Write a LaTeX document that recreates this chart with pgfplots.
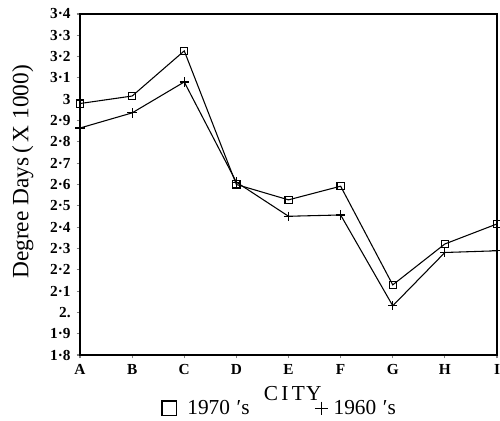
\documentclass[border=0pt]{standalone}
\usepackage{fontspec}
\setmainfont{Liberation Serif}
\usepackage{pgfplots}
\pgfplotsset{compat=1.18}
\begin{document}
\begin{tikzpicture}
\begin{axis}[
  name=ax,
  scale only axis,
  width=312.75pt, height=255.75pt,
  xmin=0, xmax=8, ymin=1.8, ymax=3.4,
  axis line style={line width=1.1pt},
  xtick={0,...,8},
  xticklabels={A,B,C,D,E,F,G,H,I},
  ytick={1.8,1.9,2.0,2.1,2.2,2.3,2.4,2.5,2.6,2.7,2.8,2.9,3.0,3.1,3.2,3.3,3.4},
  yticklabels={1·8,1·9,2.,2·1,2·2,2·3,2·4,2·5,2·6,2·7,2·8,2·9,3,3·1,3·2,3·3,3·4},
  xtick pos=bottom, ytick pos=left,
  tick align=outside,
  major tick length=2.5pt,
  tick style={line width=0.8pt},
  tick label style={font=\bfseries\fontsize{11.5}{13}\selectfont},
  yticklabel style={xshift=-1pt},
  xticklabel style={yshift=-1pt},
  xlabel={C\kern2.5pt I\kern2.5pt T\kern1pt Y},
  xlabel style={at={(axis description cs:0.51,0)}, anchor=center, yshift=-29pt, font=\fontsize{16}{18}\selectfont},
  ylabel={Degree Days\,(\,X 1000)},
  ylabel style={at={(axis description cs:-0.137,0.537)}, anchor=center, font=\fontsize{17.5}{19}\selectfont},
  legend columns=2,
  legend style={draw=none, fill=none, at={(axis description cs:0.196,0)}, anchor=west, yshift=-40pt,
    font=\fontsize{16}{18}\selectfont, inner sep=0pt,
    /tikz/every even column/.append style={column sep=47pt}},
  legend cell align=left,
]
\addplot[black, line width=0.8pt, mark=square, mark size=2.7pt, mark options={line width=0.9pt},
  legend image code/.code={\draw[mark=square, mark size=5.5pt, mark options={line width=0.8pt}] plot coordinates {(0.1cm,0cm)};}]
  coordinates {(0,2.98) (1,3.015) (2,3.227) (3,2.60) (4,2.528) (5,2.592) (6,2.129) (7,2.321) (8,2.415)};
\addlegendentry{\hspace{6pt}1970\kern5pt′s}
\addplot[black, line width=0.8pt, mark=+, mark size=3.5pt, mark options={line width=0.9pt},
  legend image code/.code={\draw[mark=+, mark size=5pt, mark options={line width=0.6pt}] plot coordinates {(0.3cm,0cm)};}]
  coordinates {(0,2.865) (1,2.936) (2,3.081) (3,2.611) (4,2.451) (5,2.457) (6,2.031) (7,2.281) (8,2.289)};
\addlegendentry{\hspace{2pt}1960\kern5pt′s}
\end{axis}
\pgfresetboundingbox
\path ([xshift=-60pt,yshift=-48.75pt]ax.south west) rectangle ([xshift=2.25pt,yshift=10.5pt]ax.north east);
\end{tikzpicture}
\end{document}
